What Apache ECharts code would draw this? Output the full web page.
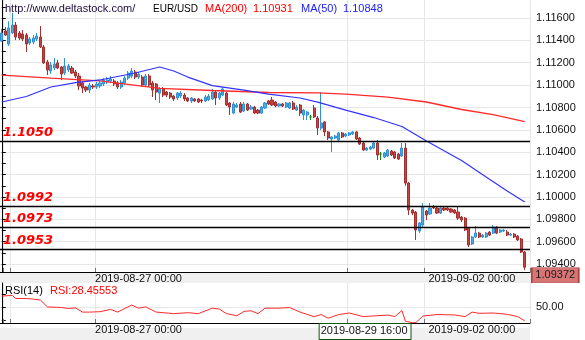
<!DOCTYPE html>
<html><head><meta charset="utf-8">
<script src="https://cdn.jsdelivr.net/npm/echarts@6/dist/echarts.min.js"></script>
<style>html,body{margin:0;padding:0;background:#fff}#c{width:585px;height:340px}</style>
</head><body><div id="c"></div>
<script>
// ---- data ----
const open = [1.11394,1.11484,1.11367,1.11466,1.11537,1.11466,1.11457,1.11448,1.11376,1.11385,
 1.11412,1.11430,1.11341,1.11207,1.11126,1.11153,1.11198,1.11162,1.11108,1.11135,
 1.11153,1.11117,1.11081,1.11019,1.10983,1.10956,1.10992,1.10983,1.10992,1.11010,
 1.11028,1.11037,1.11037,1.11019,1.10983,1.11019,1.11063,1.11081,1.11117,1.11072,
 1.11072,1.11001,1.11081,1.11019,1.11010,1.10929,1.10965,1.10938,1.10929,1.10902,
 1.10885,1.10902,1.10911,1.10885,1.10858,1.10876,1.10876,1.10867,1.10858,1.10867,
 1.10876,1.10938,1.10885,1.10911,1.10929,1.10840,1.10750,1.10804,1.10831,1.10768,
 1.10831,1.10786,1.10804,1.10777,1.10750,1.10795,1.10858,1.10867,1.10849,1.10813,
 1.10831,1.10804,1.10795,1.10840,1.10777,1.10822,1.10733,1.10733,1.10715,1.10795,
 1.10706,1.10616,1.10670,1.10581,1.10518,1.10527,1.10509,1.10572,1.10545,1.10554,
 1.10563,1.10581,1.10527,1.10482,1.10420,1.10428,1.10437,1.10482,1.10384,1.10357,
 1.10366,1.10411,1.10402,1.10384,1.10366,1.10437,1.10124,1.09883,1.09865,1.09695,
 1.09749,1.09874,1.09848,1.09910,1.09901,1.09856,1.09901,1.09901,1.09892,1.09883,
 1.09865,1.09820,1.09811,1.09722,1.09579,1.09642,1.09677,1.09642,1.09642,1.09686,
 1.09677,1.09731,1.09686,1.09695,1.09686,1.09659,1.09668,1.09650,1.09624,1.09507];
const close = [1.11466,1.11448,1.11511,1.11537,1.11430,1.11421,1.11412,1.11367,1.11412,1.11421,
 1.11439,1.11341,1.11198,1.11135,1.11180,1.11189,1.11153,1.11099,1.11171,1.11171,
 1.11108,1.11081,1.10992,1.10974,1.10956,1.11001,1.10983,1.11010,1.11019,1.11046,
 1.11046,1.11054,1.11010,1.10983,1.11028,1.11063,1.11108,1.11126,1.11072,1.11099,
 1.11001,1.11081,1.11001,1.10956,1.10938,1.10965,1.10911,1.10911,1.10893,1.10876,
 1.10929,1.10929,1.10876,1.10858,1.10885,1.10858,1.10849,1.10858,1.10893,1.10902,
 1.10938,1.10885,1.10929,1.10965,1.10822,1.10804,1.10831,1.10822,1.10759,1.10831,
 1.10777,1.10804,1.10750,1.10750,1.10804,1.10840,1.10831,1.10822,1.10813,1.10831,
 1.10813,1.10840,1.10840,1.10786,1.10804,1.10750,1.10777,1.10759,1.10715,1.10715,
 1.10616,1.10661,1.10581,1.10527,1.10536,1.10545,1.10572,1.10536,1.10563,1.10572,
 1.10581,1.10518,1.10473,1.10420,1.10437,1.10446,1.10482,1.10375,1.10384,1.10393,
 1.10420,1.10375,1.10348,1.10339,1.10437,1.10124,1.09883,1.09856,1.09704,1.09767,
 1.09910,1.09838,1.09901,1.09901,1.09856,1.09901,1.09883,1.09883,1.09865,1.09856,
 1.09811,1.09794,1.09704,1.09570,1.09642,1.09677,1.09642,1.09659,1.09677,1.09659,
 1.09731,1.09677,1.09704,1.09704,1.09659,1.09668,1.09642,1.09615,1.09507,1.09372];
const low = [1.11385,1.11440,1.11350,1.11457,1.11403,1.11403,1.11394,1.11296,1.11359,1.11367,
 1.11394,1.11332,1.11189,1.11090,1.11100,1.11135,1.11144,1.11046,1.11090,1.11117,
 1.11099,1.11063,1.10956,1.10929,1.10938,1.10929,1.10965,1.10965,1.10974,1.10992,
 1.11010,1.11019,1.10992,1.10965,1.10965,1.11001,1.11046,1.11063,1.11054,1.11054,
 1.10983,1.10983,1.10983,1.10893,1.10867,1.10840,1.10893,1.10893,1.10876,1.10858,
 1.10867,1.10885,1.10858,1.10849,1.10840,1.10849,1.10840,1.10840,1.10849,1.10858,
 1.10867,1.10822,1.10867,1.10902,1.10813,1.10733,1.10741,1.10795,1.10750,1.10759,
 1.10768,1.10777,1.10741,1.10741,1.10741,1.10786,1.10822,1.10813,1.10804,1.10804,
 1.10804,1.10795,1.10786,1.10777,1.10768,1.10724,1.10688,1.10688,1.10688,1.10706,
 1.10554,1.10598,1.10545,1.10509,1.10402,1.10518,1.10500,1.10527,1.10536,1.10545,
 1.10554,1.10509,1.10464,1.10411,1.10411,1.10420,1.10428,1.10330,1.10330,1.10348,
 1.10357,1.10366,1.10339,1.10330,1.10357,1.10100,1.09838,1.09838,1.09615,1.09677,
 1.09731,1.09794,1.09838,1.09892,1.09848,1.09848,1.09874,1.09874,1.09856,1.09848,
 1.09794,1.09776,1.09695,1.09552,1.09570,1.09633,1.09633,1.09633,1.09633,1.09650,
 1.09668,1.09668,1.09677,1.09686,1.09650,1.09650,1.09633,1.09606,1.09498,1.09346];
const high = [1.11502,1.11520,1.11570,1.11645,1.11564,1.11484,1.11493,1.11466,1.11430,1.11448,
 1.11466,1.11528,1.11359,1.11225,1.11207,1.11242,1.11225,1.11171,1.11242,1.11189,
 1.11171,1.11135,1.11108,1.11037,1.10992,1.11019,1.11010,1.11028,1.11037,1.11063,
 1.11072,1.11081,1.11054,1.11037,1.11046,1.11081,1.11126,1.11153,1.11135,1.11117,
 1.11090,1.11099,1.11099,1.11037,1.11019,1.10983,1.10983,1.10947,1.10938,1.10911,
 1.10938,1.10947,1.10929,1.10893,1.10893,1.10885,1.10885,1.10876,1.10911,1.10920,
 1.10965,1.10947,1.10938,1.10983,1.10938,1.10849,1.10849,1.10840,1.10849,1.10849,
 1.10840,1.10822,1.10813,1.10786,1.10813,1.10849,1.10867,1.10893,1.10858,1.10840,
 1.10840,1.10849,1.10849,1.10858,1.10822,1.10831,1.10786,1.10768,1.10733,1.10822,
 1.10724,1.10938,1.10679,1.10590,1.10545,1.10554,1.10581,1.10581,1.10572,1.10581,
 1.10590,1.10590,1.10536,1.10491,1.10446,1.10455,1.10491,1.10509,1.10402,1.10402,
 1.10428,1.10420,1.10411,1.10393,1.10482,1.10482,1.10133,1.09892,1.09874,1.09776,
 1.09946,1.09883,1.09946,1.09928,1.09919,1.09910,1.09919,1.09910,1.09901,1.09892,
 1.09910,1.09829,1.09820,1.09731,1.09650,1.09740,1.09686,1.09668,1.09686,1.09695,
 1.09749,1.09740,1.09713,1.09713,1.09704,1.09677,1.09677,1.09659,1.09633,1.09516];

// moving averages read at candle indices [index, value]
const ma200 = [[0,1.11090],[14,1.11063],[28,1.11037],[45,1.10970],[60,1.10952],[76,1.10934],
 [90,1.10931],[98,1.10920],[110,1.10893],[121,1.10849],[131,1.10782],[140,1.10737],[149,1.10674]];
const ma50 = [[0,1.10849],[7,1.10898],[14,1.10983],[21,1.11023],[28,1.11046],[38,1.11108],
 [45,1.11162],[49,1.11126],[53,1.11072],[60,1.10996],[69,1.10956],[76,1.10920],[85,1.10885],
 [90,1.10848],[98,1.10777],[106,1.10710],[114,1.10630],[121,1.10500],[131,1.10326],
 [138,1.10178],[144,1.10053],[149,1.09955]];
const rsi = [[0,66.8],[3,67.7],[4,63],[7,63],[9,62],[11,60.6],[13,49.9],[17,49],[19,47.5],[21,48.5],
 [23,41.9],[25,41.9],[28,42.5],[31,46.1],[33,41.9],[37,52.8],[39,48],[41,50],[44,41.9],[49,39.5],
 [53,41],[56,39.5],[60,48],[62,46.5],[64,39.5],[67,36.3],[69,43],[71,44],[73,39.5],[75,48],
 [79,48],[82,49],[85,41.9],[89,34.9],[91,38.1],[93,32.5],[96,38.1],[99,40.5],[103,34.9],[106,36],
 [110,37.3],[112,35],[114,44.3],[115,27.8],[117,25.4],[118,25.6],[120,35.8],[124,38.1],[129,37.5],
 [132,34.9],[134,41.9],[136,40],[140,40.5],[144,38.5],[147,34.9],[149,28.45553]];

const supportLevels = [1.1050, 1.0992, 1.0973, 1.0953];
const priceTicks = [1.094,1.095,1.096,1.097,1.098,1.099,1.100,1.101,1.102,1.103,1.104,1.105,
 1.106,1.107,1.108,1.109,1.110,1.111,1.112,1.113,1.114,1.115,1.116,1.117];
const priceLabels = [1.094,1.096,1.098,1.100,1.102,1.104,1.106,1.108,1.110,1.112,1.114,1.116];
const rsiTicks = [30, 50, 70];
const rsiLabels = [50];
const timeLabels = {26: '2019-08-27 00:00', 121: '2019-09-02 00:00'};
const cursorIndex = 90, cursorLabel = '2019-08-29 16:00';
const timeGridIdx = [1, 3, 27, 99, 121];
const symbolName = 'EUR/USD', siteText = 'http://www.deltastock.com/';

// ---- chart ----
const FONT = "'Liberation Sans', Arial, sans-serif";
const nSlots = open.length + 1;
const categories = Array.from({length: nSlots}, (_, i) => String(i));
const candles = open.map((o, i) => [o, close[i], low[i], high[i]]);
const lastClose = close[close.length - 1];
const lastIdx = close.length - 1;
const ma200AtCursor = ma200.find(p => p[0] === cursorIndex)[1];
const ma50AtCursor = ma50.find(p => p[0] === cursorIndex)[1];
const lastRsi = rsi[rsi.length - 1][1];

const gridCol = '#e7e7e7';
const isGrid = (i) => timeGridIdx.includes(i);

function catAxis(gridIndex, labelFn, labelInt) {
  return {
    type: 'category', gridIndex, data: categories, boundaryGap: true,
    axisLine: {show: true, onZero: false, lineStyle: {color: '#000', width: 1}},
    axisTick: {show: true, inside: true, length: 4, interval: (i) => isGrid(i), lineStyle: {color: '#777'}},
    splitLine: {show: true, interval: (i) => isGrid(i), lineStyle: {color: gridCol, width: 1}},
    axisLabel: {show: true, interval: labelInt, formatter: labelFn, hideOverlap: false,
      align: 'left', margin: 1, padding: [0, 0, 0, 2], color: '#111', fontSize: 11, fontFamily: FONT,
      rich: {box: {borderColor: '#0b5a0b', borderWidth: 1, backgroundColor: '#fff', padding: [1, 3, 3, 1],
        color: '#111', fontSize: 11, fontFamily: FONT}}}
  };
}
function hiddenValueX(gridIndex) {
  return {type: 'value', gridIndex, min: -0.5, max: nSlots - 0.5, show: false,
    splitLine: {show: false}, axisLine: {show: false}, axisTick: {show: false}, axisLabel: {show: false}};
}

const chart = echarts.init(document.getElementById('c'), null, {renderer: 'canvas'});
chart.setOption({
  animation: false,
  backgroundColor: '#fff',
  grid: [
    {left: 0, top: 0, width: 530, height: 272},
    {left: 0, top: 283, width: 530, height: 44}
  ],
  xAxis: [
    catAxis(0, (v, i) => timeLabels[i] || '', (i) => i in timeLabels),
    hiddenValueX(0),
    catAxis(1, (v, i) => i === cursorIndex ? '{box|' + cursorLabel + '}' : (timeLabels[i] || ''),
      (i) => (i in timeLabels) || i === cursorIndex),
    hiddenValueX(1)
  ],
  yAxis: [
    {type: 'value', gridIndex: 0, position: 'right', min: 1.09329, max: 1.11761,
      axisLine: {show: true, lineStyle: {color: '#000', width: 1}},
      axisTick: {show: true, inside: false, length: 4, customValues: priceTicks, lineStyle: {color: '#000'}},
      axisLabel: {show: true, customValues: priceLabels, formatter: (v) => v.toFixed(5), margin: 6,
        color: '#111', fontSize: 11, fontFamily: FONT},
      splitLine: {show: false}},
    {type: 'value', gridIndex: 0, position: 'left', min: 1.09329, max: 1.11761,
      axisLine: {show: false}, axisTick: {show: false, customValues: priceLabels},
      axisLabel: {show: false}, splitLine: {show: true, lineStyle: {color: gridCol, width: 1}}},
    {type: 'value', gridIndex: 1, position: 'right', min: 25, max: 87,
      axisLine: {show: true, lineStyle: {color: '#000', width: 1}},
      axisTick: {show: true, inside: false, length: 4, customValues: rsiTicks, lineStyle: {color: '#000'}},
      axisLabel: {show: true, customValues: rsiLabels, formatter: (v) => v.toFixed(2), margin: 6,
        color: '#111', fontSize: 11, fontFamily: FONT},
      splitLine: {show: false}},
    {type: 'value', gridIndex: 1, position: 'left', min: 25, max: 87,
      axisLine: {show: false}, axisTick: {show: false, customValues: rsiLabels},
      axisLabel: {show: false}, splitLine: {show: true, lineStyle: {color: gridCol, width: 1}}}
  ],
  series: [
    {type: 'candlestick', xAxisIndex: 0, yAxisIndex: 0, data: candles, barWidth: 2.6,
      itemStyle: {color: '#4aaee2', borderColor: '#2f90d2', color0: '#c64444', borderColor0: '#a32f2f',
        borderColorDoji: '#138a13', borderWidth: 1},
      markLine: {silent: true, symbol: ['none', 'none'], animation: false, precision: 4,
        lineStyle: {color: '#000', type: 'solid', width: 1.3},
        label: {show: true, position: 'insideStartTop', distance: [3, 2], formatter: (p) => Number(p.value).toFixed(4),
          color: '#ff0000', fontWeight: 'bold', fontStyle: 'italic', fontSize: 13, fontFamily: "'DejaVu Sans', Verdana, sans-serif"},
        data: supportLevels.map(v => ({yAxis: v}))},
      markPoint: {silent: true, animation: false,
        data: [{coord: [lastIdx, lastClose], value: lastClose, symbol: 'rect', symbolSize: [47, 15],
          symbolOffset: [30.5, 8],
          itemStyle: {color: '#d77474', borderColor: '#a94444', borderWidth: 1},
          label: {show: true, position: 'inside', formatter: (p) => Number(p.value).toFixed(5), color: '#1a1a1a',
            fontSize: 11, fontFamily: FONT}}]}},
    {type: 'line', name: 'MA(200)', xAxisIndex: 1, yAxisIndex: 0, data: ma200, showSymbol: false,
      lineStyle: {color: '#ff2a2a', width: 1.3}, silent: true},
    {type: 'line', name: 'MA(50)', xAxisIndex: 1, yAxisIndex: 0, data: ma50, showSymbol: false,
      lineStyle: {color: '#3232ff', width: 1.2}, silent: true},
    {type: 'line', name: 'RSI', xAxisIndex: 3, yAxisIndex: 2, data: rsi, showSymbol: false,
      lineStyle: {color: '#ff2a2a', width: 1}, silent: true}
  ],
  graphic: [
    {type: 'rect', z: -1, silent: true, shape: {x: 0, y: 273, width: 530, height: 10}, style: {fill: '#f0f0f0'}},
    {type: 'rect', z: -1, silent: true, shape: {x: 0, y: 328, width: 530, height: 12}, style: {fill: '#f0f0f0'}},
    {type: 'text', x: 5, y: 9, z: 10, silent: true, style: {text: siteText, fill: '#1c0c3c', font: '11px ' + FONT, verticalAlign: 'middle'}},
    {type: 'text', x: 153, y: 9, z: 10, silent: true, style: {text: symbolName, fill: '#000', font: '10px ' + FONT, verticalAlign: 'middle'}},
    {type: 'text', x: 205, y: 9, z: 10, silent: true, style: {text: 'MA(200)', fill: '#ff0000', font: '11px ' + FONT, verticalAlign: 'middle'}},
    {type: 'text', x: 253, y: 9, z: 10, silent: true, style: {text: ma200AtCursor.toFixed(5), fill: '#ff0000', font: '11px ' + FONT, verticalAlign: 'middle'}},
    {type: 'text', x: 301, y: 9, z: 10, silent: true, style: {text: 'MA(50)', fill: '#2020ff', font: '11px ' + FONT, verticalAlign: 'middle'}},
    {type: 'text', x: 343, y: 9, z: 10, silent: true, style: {text: ma50AtCursor.toFixed(5), fill: '#2020ff', font: '11px ' + FONT, verticalAlign: 'middle'}},
    {type: 'text', x: 5, y: 291, z: 10, silent: true, style: {text: 'RSI(14)', fill: '#000', font: '11px ' + FONT, verticalAlign: 'middle'}},
    {type: 'text', x: 50, y: 291, z: 10, silent: true, style: {text: 'RSI:' + lastRsi.toFixed(5), fill: '#ff0000', font: '11px ' + FONT, verticalAlign: 'middle'}}
  ]
});
</script></body></html>
